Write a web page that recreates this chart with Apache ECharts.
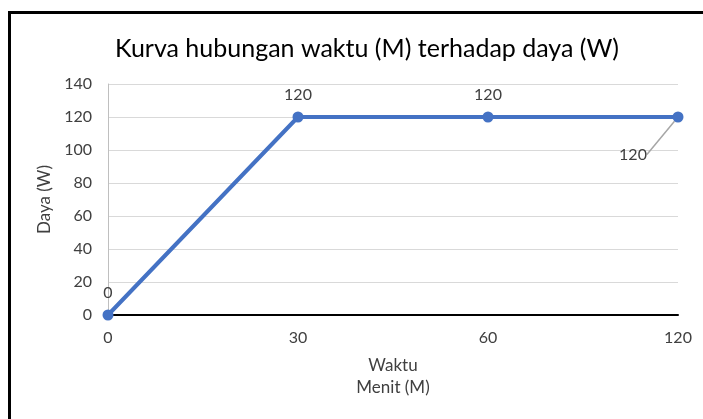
<!DOCTYPE html>
<html>
<head>
<meta charset="utf-8">
<script src="https://cdn.jsdelivr.net/npm/echarts@6/dist/echarts.min.js"></script>
<style>
  html, body { margin: 0; padding: 0; background: #fff; }
  #wrap { position: relative; width: 703px; height: 419px; overflow: hidden; }
  #chart { width: 703px; height: 419px; }
  #frame {
    position: absolute; left: 8px; top: 11px; width: 720px; height: 440px;
    border-left: 3px solid #000; border-top: 3px solid #000;
    pointer-events: none;
  }
</style>
</head>
<body>
<div id="wrap">
  <div id="chart"></div>
  <div id="frame"></div>
</div>
<script>
// data
const waktu = ['0', '30', '60', '120'];
const daya = [0, 120, 120, 120];
const yTicks = [0, 20, 40, 60, 80, 100, 120, 140];

const font = 'Lato, "Noto Sans", sans-serif';
const last = daya.length - 1;

// only the last label gets a leader line, like excel did
const points = daya.map((v, i) => i === last
  ? { value: v, labelLine: { show: true } }
  : { value: v });

const chart = echarts.init(document.getElementById('chart'));

chart.setOption({
  animation: false,
  title: {
    text: 'Kurva hubungan waktu (M) terhadap daya (W)',
    left: 362,
    textAlign: 'center',
    top: 31,
    textStyle: { fontFamily: font, fontSize: 25, fontWeight: 'normal', color: '#000' }
  },
  grid: { left: 108, right: 25, top: 84, bottom: 104 },
  xAxis: {
    type: 'category',
    data: waktu,
    boundaryGap: false,
    name: 'Waktu\nMenit (M)',
    nameLocation: 'middle',
    nameGap: 40,
    nameTextStyle: { fontFamily: font, fontSize: 17, color: '#404040', lineHeight: 22 },
    axisLine: { lineStyle: { color: '#000', width: 2 } },
    axisTick: { show: false },
    axisLabel: { fontFamily: font, fontSize: 16, color: '#404040', margin: 15 },
    splitLine: { show: false }
  },
  yAxis: {
    type: 'value',
    min: yTicks[0],
    max: yTicks[yTicks.length - 1],
    interval: 20,
    name: 'Daya (W)',
    nameLocation: 'middle',
    nameGap: 52,
    nameTextStyle: { fontFamily: font, fontSize: 17, color: '#404040' },
    axisLine: { show: true, lineStyle: { color: '#bfbfbf', width: 1 } },
    axisTick: { show: false },
    axisLabel: { fontFamily: font, fontSize: 16, color: '#404040', margin: 16 },
    splitLine: { lineStyle: { color: '#d9d9d9', width: 1 } }
  },
  series: [{
    type: 'line',
    data: points,
    symbol: 'circle',
    symbolSize: 11,
    itemStyle: { color: '#4472C4' },
    lineStyle: { color: '#4472C4', width: 4 },
    label: {
      show: true,
      position: 'top',
      distance: 9,
      fontFamily: font,
      fontSize: 16,
      color: '#404040'
    },
    labelLine: { show: false, lineStyle: { color: '#a6a6a6', width: 1.5 } },
    labelLayout: function (p) {
      if (p.dataIndex === last) {
        return { dx: -45, dy: 60 };
      }
      return {};
    },
    z: 3
  }]
});
</script>
</body>
</html>
